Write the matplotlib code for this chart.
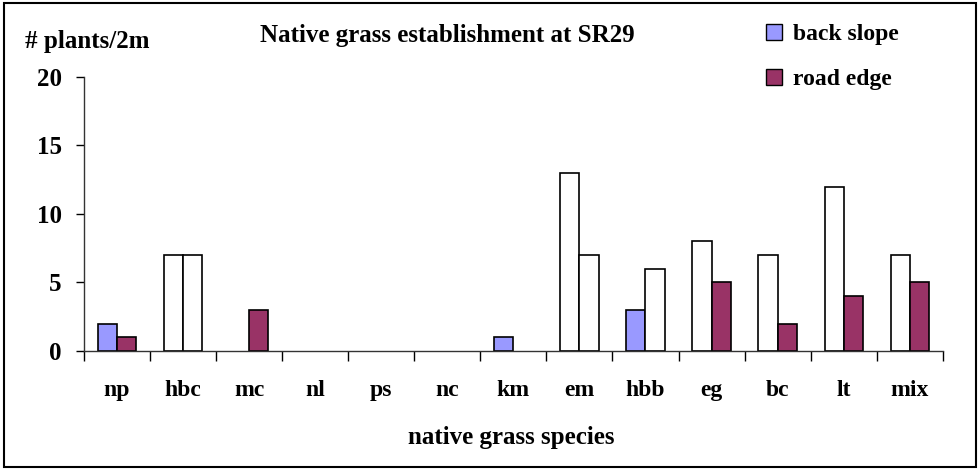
import numpy as np
import matplotlib
matplotlib.use("Agg")
import matplotlib.pyplot as plt
from matplotlib.patches import Rectangle, Patch

species = ["np", "hbc", "mc", "nl", "ps", "nc", "km", "em", "hbb", "eg", "bc", "lt", "mix"]
back_slope = [2, 7, 0, 0, 0, 0, 1, 13, 3, 8, 7, 12, 7]
road_edge = [1, 7, 3, 0, 0, 0, 0, 7, 6, 5, 2, 4, 5]
# points drawn unfilled in the original
back_white = [False, True, False, False, False, False, False, True, False, True, True, True, True]
road_white = [False, True, False, False, False, False, False, True, True, False, False, False, False]
yticks = [0, 5, 10, 15, 20]

BLUE = "#9999FF"
PLUM = "#993366"

plt.rcParams["font.family"] = ["Liberation Serif", "DejaVu Serif"]
plt.rcParams["font.weight"] = "bold"

fig = plt.figure(figsize=(9.8, 4.72), dpi=100)
ax = fig.add_axes([0.0857, 0.2564, 0.962 - 0.0857, 0.8369 - 0.2564])

x = np.arange(len(species))
w = 0.29
bc = ["white" if b else BLUE for b in back_white]
rc = ["white" if b else PLUM for b in road_white]
# zero-height bars show no outline in the original
blw = [1.2 if v else 0 for v in back_slope]
rlw = [1.2 if v else 0 for v in road_edge]
ax.bar(x - w / 2, back_slope, w, color=bc, edgecolor="black", linewidth=blw)
ax.bar(x + w / 2, road_edge, w, color=rc, edgecolor="black", linewidth=rlw)

ax.set_xlim(-0.5, len(species) - 0.5)
ax.set_ylim(0, 20)
ax.set_yticks(yticks)
ax.set_xticks(x)
ax.set_xticklabels(species)
ax.set_xticks(np.arange(-0.5, len(species)), minor=True)
ax.tick_params(axis="x", which="major", length=0, pad=21, labelsize=17)
ax.tick_params(axis="x", which="minor", length=7, width=1, direction="out")
ax.tick_params(axis="y", length=6, width=1, pad=10, labelsize=18)
for lab in ax.get_xticklabels() + ax.get_yticklabels():
    lab.set_fontweight("bold")
for s in ["top", "right"]:
    ax.spines[s].set_visible(False)
for s in ["left", "bottom"]:
    ax.spines[s].set_linewidth(1)
    ax.spines[s].set_color("#333333")

fig.text(0.456, 0.925, "Native grass establishment at SR29", ha="center", va="center",
         fontsize=18, fontweight="bold")
fig.text(0.025, 0.913, "# plants/2m", ha="left", va="center", fontsize=18, fontweight="bold")
fig.text(0.522, 0.073, "native grass species", ha="center", va="center",
         fontsize=18, fontweight="bold")

handles = [Patch(facecolor=BLUE, edgecolor="black", label="back slope"),
           Patch(facecolor=PLUM, edgecolor="black", label="road edge")]
fig.legend(handles=handles, loc="upper left", bbox_to_anchor=(0.76, 0.995), frameon=False,
           prop={"size": 17, "weight": "bold"}, handlelength=0.68, handleheight=0.68,
           handletextpad=0.45, labelspacing=1.0)

fig.patches.append(Rectangle((0.004, 0.01), 0.992, 0.983, transform=fig.transFigure,
                             fill=False, edgecolor="black", linewidth=1.5))

fig.savefig("out.png", dpi=100, facecolor="white")
